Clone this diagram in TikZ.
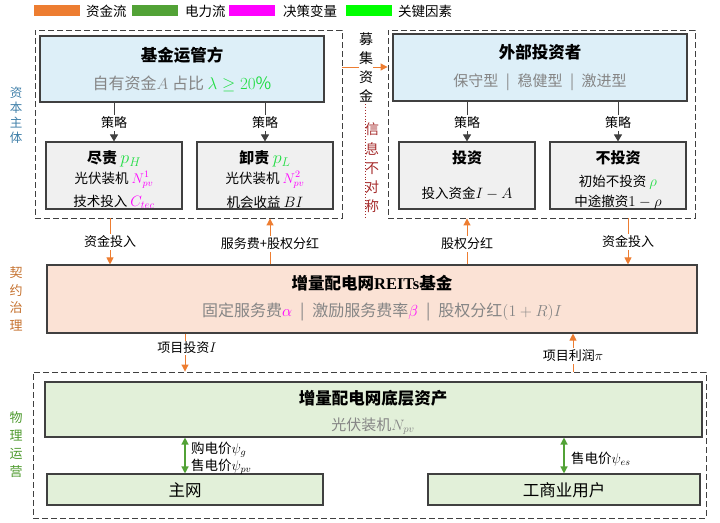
\RequirePackage{fix-cm}
\documentclass[tikz,border=0pt]{standalone}
\usepackage{amsmath}
\usepackage{fontspec}
\setmainfont{Noto Sans CJK SC}
\newfontfamily\lat{Liberation Serif}
\usetikzlibrary{arrows.meta}
\definecolor{flowor}{HTML}{ED7D31}
\definecolor{flowgr}{HTML}{52A236}
\definecolor{decmag}{HTML}{FF00FF}
\definecolor{keygr}{HTML}{00FF00}
\definecolor{keytxt}{HTML}{22DD44}
\definecolor{bluefill}{HTML}{DDEFF8}
\definecolor{grayfill}{HTML}{F0F0F0}
\definecolor{peach}{HTML}{FBE2D5}
\definecolor{lgreen}{HTML}{E2F0D9}
\definecolor{edge}{HTML}{404040}
\definecolor{subgray}{HTML}{858585}
\definecolor{capblue}{HTML}{3F7FA8}
\definecolor{govor}{HTML}{C5722F}
\definecolor{opgr}{HTML}{4E9A2E}
\definecolor{infored}{HTML}{A52A2A}
\newcommand\fsz[1]{\fontsize{#1}{#1}\selectfont}
\newcommand\sepbar{\enspace|\enspace}
\begin{document}
\begin{tikzpicture}[x=1pt,y=-1pt,
  dbox/.style={draw=edge, dash pattern=on 6pt off 3pt, line width=0.9pt, inner sep=0},
  sbox/.style={draw=edge, line width=1.1pt, inner sep=0},
  txt/.style={inner sep=0},
  lab/.style={fill=white, inner sep=1.5pt, font=\fsz{13}},
  oarr/.style={draw=flowor, line width=1pt, -{Triangle[length=7pt,width=7pt]}},
  garr/.style={draw=flowgr, line width=1.3pt, {Triangle[length=7pt,width=7pt]}-{Triangle[length=7pt,width=7pt]}},
  karr/.style={draw=edge, line width=1pt, -{Triangle[length=7pt,width=8pt]}},
  vlab/.style={align=center, inner sep=0},
  swatch/.style={minimum width=46pt, minimum height=11pt, inner sep=0},
  legtxt/.style={anchor=west, inner sep=0, font=\fsz{13.5}}
]
\useasboundingbox (0,0) rectangle (720,522);

% legend
\node[swatch, fill=flowor] (sw1) at (57,10.5) {};
\node[legtxt] (lg1) at (86,11) {资金流};
\node[swatch, fill=flowgr] (sw2) at (155,10.5) {};
\node[legtxt] (lg2) at (185,11) {电力流};
\node[swatch, fill=decmag] (sw3) at (251.5,10.5) {};
\node[legtxt] (lg3) at (283,11) {决策变量};
\node[swatch, fill=keygr] (sw4) at (368.5,10.5) {};
\node[legtxt] (lg4) at (398,11) {关键因素};

% dashed groups
\node[dbox, minimum width=307pt, minimum height=188pt] (tl) at (188.5,124) {};
\node[dbox, minimum width=307pt, minimum height=188pt] (tr) at (541.5,124) {};
\node[dbox, minimum width=673pt, minimum height=146pt] (bd) at (369.5,445) {};

% boxes
\node[sbox, fill=bluefill, minimum width=284pt, minimum height=66pt] (fm) at (182,69) {};
\node[sbox, fill=grayfill, minimum width=136pt, minimum height=67pt] (cl) at (114,175.5) {};
\node[sbox, fill=grayfill, minimum width=136pt, minimum height=67pt] (cr) at (265,175.5) {};
\node[sbox, fill=bluefill, minimum width=294pt, minimum height=67pt] (inv) at (540,67.5) {};
\node[sbox, fill=grayfill, minimum width=136pt, minimum height=67pt] (ci) at (467,175.5) {};
\node[sbox, fill=grayfill, minimum width=136pt, minimum height=67pt] (cn) at (618,175.5) {};
\node[sbox, fill=peach, minimum width=650pt, minimum height=68pt] (reits) at (372,299) {};
\node[sbox, fill=lgreen, minimum width=657pt, minimum height=55pt] (asset) at (373.5,409.5) {};
\node[sbox, fill=lgreen, minimum width=276pt, minimum height=31pt] (grid) at (185,489.5) {};
\node[sbox, fill=lgreen, minimum width=272pt, minimum height=31pt] (users) at (564,489.5) {};

% box texts
\node[txt, font=\fsz{16.5}\bfseries] (fmt) at (182,55) {基金运管方};
\node[txt, font=\fsz{16}] (fms) at (182,84) {{\color{subgray}自有资金$A$ 占比 }{\fsz{17}\color{keytxt}$\lambda\geq 20\%$}};
\node[txt, font=\fsz{15}\bfseries] (clt) at (114,159) {尽责 {\fsz{18}\color{keytxt}$p_H$}};
\node[txt, font=\fsz{13.5}] (clb1) at (114,180) {光伏装机 {\fsz{14}\color{decmag}$N^1_{pv}$}};
\node[txt, font=\fsz{13.5}] (clb2) at (114,202) {技术投入 {\fsz{15}\color{decmag}$C_{tec}$}};
\node[txt, font=\fsz{15}\bfseries] (crt) at (265,159) {卸责 {\fsz{18}\color{keytxt}$p_L$}};
\node[txt, font=\fsz{13.5}] (crb1) at (265,180) {光伏装机 {\fsz{14}\color{decmag}$N^2_{pv}$}};
\node[txt, font=\fsz{13.5}] (crb2) at (265,202) {机会收益 {\fsz{15}$BI$}};
\node[txt, font=\fsz{16.5}\bfseries] (invt) at (540,52) {外部投资者};
\node[txt, font=\fsz{15}, text=subgray] (invs) at (540,82) {保守型\sepbar 稳健型\sepbar 激进型};
\node[txt, font=\fsz{15}\bfseries] (cit) at (467,158) {投资};
\node[txt, font=\fsz{13.5}] (cib) at (467,193) {投入资金{\fsz{15}$I-A$}};
\node[txt, font=\fsz{15}\bfseries] (cnt) at (618,158) {不投资};
\node[txt, font=\fsz{13.5}] (cnb1) at (618,182) {初始不投资 {\fsz{15}\color{keytxt}$\rho$}};
\node[txt, font=\fsz{13.5}] (cnb2) at (618,202) {中途撤资{\fsz{15}$1-\rho$}};
\node[txt, font=\fsz{16.5}\bfseries] (rt) at (372,283) {增量配电网{\lat REITs}基金};
\node[txt, font=\fsz{16}, text=subgray] (rs) at (382,312) {固定服务费{\color{decmag}$\alpha$}\sepbar 激励服务费率{\color{decmag}$\beta$}\sepbar 股权分红$(1+R)I$};
\node[txt, font=\fsz{16.5}\bfseries] (at) at (373,398) {增量配电网底层资产};
\node[txt, font=\fsz{15}, text=subgray] (as) at (373,426) {光伏装机$N_{pv}$};
\node[txt, font=\fsz{16.5}] (gt) at (185,490) {主网};
\node[txt, font=\fsz{16.5}] (ut) at (564,490) {工商业用户};

% strategy arrows
\draw[karr] (fm.south -| cl.north) -- (cl.north);
\node[lab] (s1) at (114,123) {策略};
\draw[karr] (fm.south -| cr.north) -- (cr.north);
\node[lab] (s2) at (265,123) {策略};
\draw[karr] (inv.south -| ci.north) -- (ci.north);
\node[lab] (s3) at (467,123) {策略};
\draw[karr] (inv.south -| cn.north) -- (cn.north);
\node[lab] (s4) at (618,123) {策略};

% fund raising
\coordinate (ry) at (0,67);
\draw[oarr] (tl.east |- ry) -- (tr.west |- ry);
\node[vlab, fill=white, font={\fontsize{14}{19}\selectfont}] (mj) at (366,67) {募\\集\\资\\金};
\coordinate (d1) at (365,104);
\coordinate (d2) at (365,218);
\draw[infored, dotted, line width=0.9pt] (d1) -- (d2);
\node[vlab, text=infored, font={\fontsize{14}{19.2}\selectfont}] (xx) at (372,168) {信\\息\\不\\对\\称};

% side labels
\node[vlab, text=capblue, font={\fontsize{12.5}{15}\selectfont}] (lb1) at (16,115) {资\\本\\主\\体};
\node[vlab, text=govor, font={\fontsize{13}{17.5}\selectfont}] (lb2) at (16,299) {契\\约\\治\\理};
\node[vlab, text=opgr, font={\fontsize{13}{18}\selectfont}] (lb3) at (16,445) {物\\理\\运\\营};

% money flows
\coordinate (x1) at (110,0);
\coordinate (x2) at (270,0);
\coordinate (x3) at (467,0);
\coordinate (x4) at (628,0);
\coordinate (x5) at (185,0);
\coordinate (x6) at (573,0);
\draw[oarr] (tl.south -| x1) -- (reits.north -| x1);
\node[lab] (f1) at (110,242) {资金投入};
\draw[oarr] (reits.north -| x2) -- (tl.south -| x2);
\node[lab] (f2) at (270,244) {服务费+股权分红};
\draw[oarr] (reits.north -| x3) -- (tr.south -| x3);
\node[lab] (f3) at (467,244) {股权分红};
\draw[oarr] (tr.south -| x4) -- (reits.north -| x4);
\node[lab] (f4) at (628,242) {资金投入};
\draw[oarr] (reits.south -| x5) -- (bd.north -| x5);
\node[lab] (f5) at (187,348) {项目投资{\fsz{14}$I$}};
\draw[oarr] (bd.north -| x6) -- (reits.south -| x6);
\node[lab] (f6) at (573,356) {项目利润{\fsz{14}$\pi$}};

% power flows
\draw[garr] (asset.south -| grid.north) -- (grid.north);
\node[txt, anchor=west, font=\fsz{13.5}] (p1) at (191,450) {购电价{\fsz{14}$\psi_g$}};
\node[txt, anchor=west, font=\fsz{13.5}] (p2) at (191,467) {售电价{\fsz{14}$\psi_{pv}$}};
\draw[garr] (asset.south -| users.north) -- (users.north);
\node[txt, anchor=west, font=\fsz{13.5}] (p3) at (571,459) {售电价{\fsz{14}$\psi_{es}$}};
\end{tikzpicture}
\end{document}
